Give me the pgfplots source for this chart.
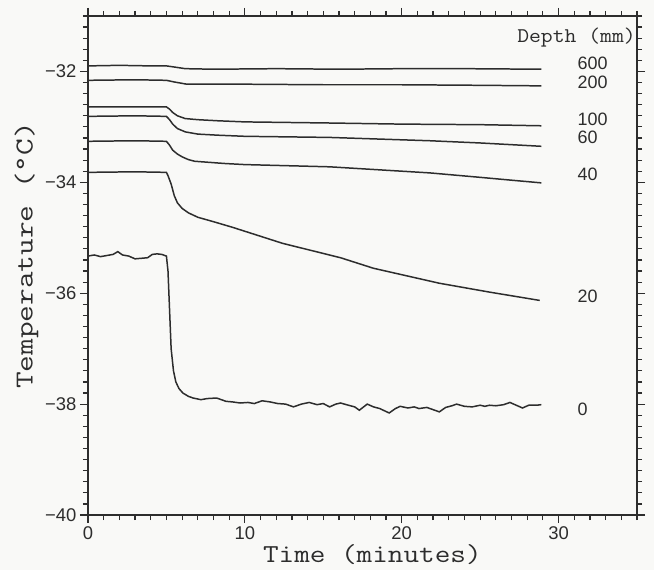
\documentclass[border=0pt]{standalone}
\usepackage{fontspec}
\setsansfont{Liberation Sans}
\usepackage{graphicx}
\usepackage{pgfplots}
\pgfplotsset{compat=1.18}
\definecolor{ink}{RGB}{45,45,45}
\definecolor{paper}{RGB}{249,249,247}
\newcommand{\lbl}[3]{\scalebox{#3}[1]{\fontsize{#1}{#1}\selectfont\ttfamily #2}}
\newcommand{\tlf}{\fontsize{18}{18}\selectfont\sffamily}
\newcommand{\tkf}{\fontsize{18.5}{18.5}\selectfont\sffamily}
\begin{document}
\begin{tikzpicture}
\fill[paper] (-88bp,-55bp) rectangle (566bp,515bp);
\begin{axis}[
  at={(0,0)}, anchor=south west,
  scale only axis, width=549bp, height=499bp,
  xmin=0, xmax=35, ymin=-40, ymax=-31,
  xtick={0,10,20,30}, ytick={-40,-38,-36,-34,-32},
  xticklabels={0,10,20,30},
  yticklabels={−40,−38,−36,−34,−32},
  minor xtick={1,2,...,35},
  minor ytick={-39.8,-39.6,...,-31.1},
  tick align=outside,
  major tick length=8bp, minor tick length=5bp,
  axis line style={ink, line width=1.3pt},
  every tick/.style={ink, line width=1.2pt},
  every tick label/.append style={font=\tkf, text=ink},
  xlabel={\lbl{26}{Time (minutes)}{1.17}},
  ylabel={\lbl{26}{Temperature (°C)}{1.25}},
  label style={text=ink},
  xlabel style={at={(ticklabel cs:0.518)}, yshift=2bp},
  ylabel style={at={(ticklabel cs:0.52)}},
  cycle list={{ink}},
  every axis plot/.append style={line width=1.5pt, mark=none},
]
% 600 mm
\addplot coordinates {(0,-31.90) (2,-31.89) (4,-31.90) (5,-31.90) (5.5,-31.92) (6.2,-31.95) (8,-31.96) (12,-31.95) (16,-31.96) (20,-31.95) (24,-31.95) (28.9,-31.96)};
% 200 mm
\addplot coordinates {(0,-32.16) (3,-32.15) (5,-32.16) (5.5,-32.19) (6.3,-32.23) (10,-32.23) (15,-32.24) (20,-32.24) (25,-32.25) (28.9,-32.26)};
% 100 mm
\addplot coordinates {(0,-32.64) (3,-32.64) (5,-32.64) (5.2,-32.68) (5.4,-32.74) (5.7,-32.80) (6.2,-32.85) (7,-32.87) (8.3,-32.89) (10,-32.91) (15.4,-32.93) (20,-32.95) (25,-32.96) (28.9,-32.98)};
% 60 mm
\addplot coordinates {(0,-32.81) (3,-32.80) (5,-32.81) (5.2,-32.87) (5.4,-32.95) (5.7,-33.03) (6.2,-33.09) (7,-33.13) (8.3,-33.15) (10,-33.17) (15.4,-33.19) (21.8,-33.25) (25,-33.29) (28.9,-33.35)};
% 40 mm
\addplot coordinates {(0,-33.26) (3,-33.25) (5,-33.26) (5.2,-33.33) (5.4,-33.42) (5.7,-33.49) (6.0,-33.54) (6.4,-33.59) (6.8,-33.62) (8.7,-33.66) (10,-33.68) (15.4,-33.72) (21.8,-33.83) (25,-33.91) (28.9,-34.01)};
% 20 mm
\addplot coordinates {(0,-33.82) (3,-33.81) (5,-33.82) (5.1,-33.88) (5.3,-34.03) (5.5,-34.24) (5.7,-34.37) (6.0,-34.47) (6.4,-34.55) (7.0,-34.63) (8.0,-34.71) (9.2,-34.81) (12.4,-35.10) (16.1,-35.36) (18.2,-35.55) (22.4,-35.82) (25.6,-35.98) (28.8,-36.13)};
% 0 mm
\addplot coordinates {(0,-35.33) (0.4,-35.31) (0.8,-35.34) (1.2,-35.32) (1.6,-35.30) (1.9,-35.25) (2.2,-35.31) (2.6,-35.33) (3.0,-35.38) (3.4,-35.37) (3.8,-35.36) (4.1,-35.30) (4.4,-35.29) (4.7,-35.30) (5.0,-35.33) (5.1,-35.6) (5.2,-36.3) (5.3,-37.0) (5.45,-37.4) (5.6,-37.6) (5.8,-37.72) (6.05,-37.80) (6.4,-37.86) (6.7,-37.89) (7.2,-37.92) (7.6,-37.90) (8.2,-37.89) (8.8,-37.95) (9.2,-37.96) (9.7,-37.98) (10.2,-37.97) (10.6,-37.99) (11.1,-37.94) (11.6,-37.96) (12.1,-37.99) (12.6,-38.00) (13.1,-38.05) (13.6,-38.00) (14.1,-37.97) (14.6,-38.01) (15.0,-37.99) (15.4,-38.05) (15.8,-38.00) (16.1,-37.98) (16.6,-38.02) (17.0,-38.05) (17.3,-38.11) (17.8,-38.00) (18.2,-38.05) (18.6,-38.08) (19.2,-38.16) (19.6,-38.08) (19.9,-38.04) (20.4,-38.07) (20.8,-38.05) (21.1,-38.08) (21.6,-38.06) (22.0,-38.10) (22.4,-38.14) (22.8,-38.06) (23.2,-38.03) (23.5,-38.00) (24.0,-38.04) (24.5,-38.05) (25.0,-38.02) (25.3,-38.04) (25.6,-38.02) (26.0,-38.03) (26.5,-38.01) (26.9,-37.97) (27.3,-38.02) (27.7,-38.07) (28.1,-38.02) (28.6,-38.02) (28.9,-38.01)};
% labels
\begin{scope}[every node/.style={inner sep=0pt, text=ink, font=\tlf, anchor=west}]
\node at (axis cs:31.2,-31.85) {600};
\node at (axis cs:31.2,-32.19) {200};
\node at (axis cs:31.2,-32.87) {100};
\node at (axis cs:31.2,-33.18) {60};
\node at (axis cs:31.2,-33.86) {40};
\node at (axis cs:31.2,-36.06) {20};
\node at (axis cs:31.2,-38.10) {0};
\end{scope}
\node[anchor=east, inner sep=1pt, text=ink] at (axis cs:35,-31.38) {\lbl{21}{Depth (mm)}{1.1}};
\end{axis}
\end{tikzpicture}
\end{document}
